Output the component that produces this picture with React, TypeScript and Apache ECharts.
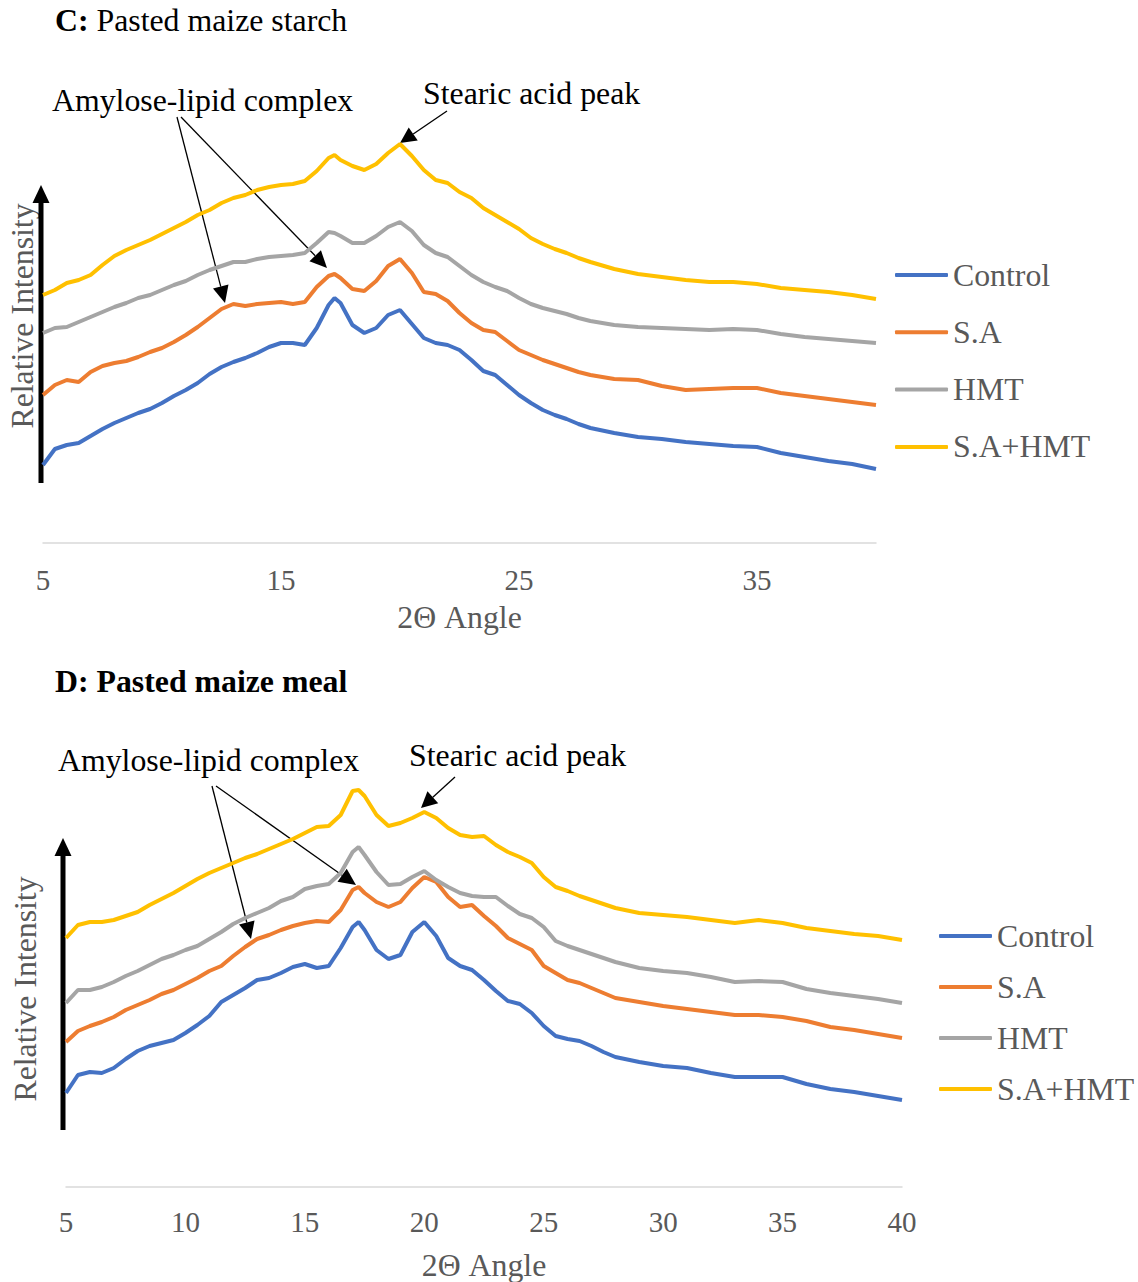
import React, { useEffect, useRef } from "react";
import * as echarts from "echarts";

const SERIES_NAMES = ["Control", "S.A", "HMT", "S.A+HMT"];
const COLORS = ["#4472C4", "#ED7D31", "#A5A5A5", "#FFC000"];

// 2θ sampling positions (degrees) shared by both diffractograms
const ANGLES = [
  5, 5.5, 6, 6.5, 7, 7.5, 8, 8.5, 9, 9.5, 10, 10.5, 11, 11.5, 12, 12.5, 13, 13.5, 14, 14.5,
  15, 15.5, 16, 16.5, 17, 17.25, 17.5, 18, 18.5, 19, 19.5, 20, 20.5, 21, 21.5, 22, 22.5, 23,
  23.5, 24, 24.5, 25, 25.5, 26, 26.5, 27, 27.5, 28, 29, 30, 31, 32, 33, 34, 35, 36, 37, 38,
  39, 40,
];

// Panel C: pasted maize starch (relative intensity, traces offset vertically)
const starchControl = [
  78, 94, 98, 100, 107, 114, 120, 125, 130, 134, 140, 147, 153, 160, 169, 176, 181, 185, 190, 196,
  200, 200, 198, 215, 238, 245, 240, 218, 210, 215, 228, 233, 219, 205, 200, 198, 193, 183,
  172, 168, 158, 148, 140, 133, 128, 124, 119, 115, 110, 106, 104, 101, 99, 97, 96, 90, 86, 82,
  79, 74,
];
const starchSA = [
  148, 158, 163, 161, 171, 177, 180, 182, 186, 191, 195, 201, 208, 216, 225, 234, 239, 237, 239, 240,
  241, 239, 241, 256, 267, 269, 265, 254, 252, 262, 277, 284, 270, 251, 249, 242, 230, 220,
  213, 211, 202, 193, 188, 183, 179, 175, 171, 168, 164, 163, 157, 153, 154, 155, 155, 150, 147, 144,
  141, 138,
];
const starchHMT = [
  210, 215, 216, 221, 226, 231, 236, 240, 245, 248, 253, 258, 262, 268, 273, 277, 281, 281, 284, 286,
  287, 288, 290, 300, 311, 310, 307, 300, 300, 307, 316, 321, 312, 298, 290, 286, 277, 268,
  261, 256, 252, 245, 239, 235, 232, 229, 225, 222, 218, 216, 215, 214, 213, 214, 213, 209, 206, 204,
  202, 200,
];
const starchSAHMT = [
  248, 253, 260, 263, 268, 278, 287, 293, 298, 303, 309, 315, 321, 328, 333, 340, 345, 348, 353, 356,
  358, 359, 362, 372, 385, 388, 383, 377, 373, 379, 390, 399, 387, 373, 363, 360, 351, 345,
  335, 328, 321, 314, 305, 299, 294, 290, 285, 281, 274, 269, 266, 263, 261, 261, 259, 255, 253, 251,
  248, 244,
];

// Panel D: pasted maize meal
const mealControl = [
  94, 112, 115, 114, 119, 128, 136, 141, 144, 147, 154, 162, 171, 185, 192, 199, 207, 209, 214, 220,
  223, 219, 221, 239, 260, 265, 257, 237, 228, 232, 255, 265, 251, 229, 221, 217, 207, 196,
  186, 183, 174, 161, 151, 148, 146, 141, 135, 130, 125, 121, 119, 114, 110, 110, 110, 103, 98, 95,
  91, 87,
];
const mealSA = [
  145, 156, 161, 165, 170, 177, 182, 187, 193, 197, 203, 209, 216, 221, 231, 240, 248, 252, 257, 261,
  264, 266, 265, 277, 297, 300, 294, 285, 280, 285, 299, 310, 305, 290, 280, 282, 271, 261,
  249, 243, 237, 221, 214, 207, 204, 199, 194, 189, 185, 181, 178, 175, 172, 172, 170, 166, 160, 157,
  153, 149,
];
const mealHMT = [
  184, 197, 197, 200, 205, 211, 216, 222, 228, 232, 237, 241, 248, 255, 263, 269, 274, 279, 286, 290,
  298, 301, 303, 314, 335, 340, 332, 315, 302, 303, 310, 316, 307, 300, 294, 291, 290, 290,
  281, 273, 269, 260, 246, 241, 237, 233, 229, 225, 219, 216, 214, 210, 205, 206, 205, 198, 194, 191,
  188, 184,
];
const mealSAHMT = [
  249, 262, 265, 265, 267, 271, 275, 282, 288, 294, 301, 308, 314, 319, 324, 329, 333, 338, 343, 348,
  354, 360, 361, 372, 396, 397, 391, 372, 361, 364, 369, 375, 369, 359, 352, 350, 351, 342,
  335, 330, 324, 310, 300, 296, 291, 287, 283, 279, 274, 272, 270, 267, 264, 267, 264, 259, 256, 253,
  251, 247,
];

const STARCH = [starchControl, starchSA, starchHMT, starchSAHMT];
const MEAL = [mealControl, mealSA, mealHMT, mealSAHMT];

const FONT = "'Liberation Serif', 'Times New Roman', serif";
const GREY_TEXT = "#595959";
const TEXT_SIZE = 31.8;

const toPairs = (vals: number[]) => ANGLES.map((a, i) => [a, vals[i]]);

function traces(sets: number[][], axisIndex: number) {
  return sets.map((vals, i) => ({
    type: "line",
    name: SERIES_NAMES[i],
    xAxisIndex: axisIndex,
    yAxisIndex: axisIndex,
    data: toPairs(vals),
    symbol: "none",
    showSymbol: false,
    lineStyle: { color: COLORS[i], width: 4 },
    itemStyle: { color: COLORS[i] },
    emphasis: { disabled: true },
  }));
}

function xAxis(gridIndex: number, interval: number, showMax: boolean, labelMargin: number, nameGap: number) {
  return {
    type: "value",
    gridIndex,
    min: 5,
    max: 40,
    interval,
    axisLine: { lineStyle: { color: "#D9D9D9", width: 1.5 } },
    axisTick: { show: false },
    splitLine: { show: false },
    axisLabel: {
      color: GREY_TEXT,
      fontSize: 29,
      fontFamily: FONT,
      margin: labelMargin,
      showMaxLabel: showMax,
    },
    name: "2Θ Angle",
    nameLocation: "middle",
    nameGap,
    nameTextStyle: { color: GREY_TEXT, fontSize: TEXT_SIZE, fontFamily: FONT },
  };
}

function yAxis(gridIndex: number) {
  return { type: "value", gridIndex, min: 0, max: 420, show: false };
}

function legend(left: number, top: number, itemGap: number) {
  return {
    data: SERIES_NAMES,
    orient: "vertical",
    left,
    top,
    padding: 0,
    itemWidth: 53,
    itemHeight: 4,
    itemGap,
    icon: "roundRect",
    selectedMode: false,
    textStyle: { color: GREY_TEXT, fontSize: TEXT_SIZE, fontFamily: FONT, lineHeight: 31 },
  };
}

// straight pointer with a filled triangular head at (x2, y2)
function arrow(x1: number, y1: number, x2: number, y2: number, width: number, headLen: number, headHalf: number) {
  const dx = x2 - x1;
  const dy = y2 - y1;
  const d = Math.hypot(dx, dy);
  const ux = dx / d;
  const uy = dy / d;
  const bx = x2 - ux * headLen;
  const by = y2 - uy * headLen;
  const px = -uy;
  const py = ux;
  return [
    { type: "line", shape: { x1, y1, x2: bx, y2: by }, style: { stroke: "#000", lineWidth: width } },
    {
      type: "polygon",
      shape: {
        points: [
          [x2, y2],
          [bx + px * headHalf, by + py * headHalf],
          [bx - px * headHalf, by - py * headHalf],
        ],
      },
      style: { fill: "#000" },
    },
  ];
}

function label(text: string, x: number, y: number, extra: Record<string, unknown> = {}) {
  return {
    type: "text",
    x,
    y,
    style: {
      text,
      fill: "#000",
      fontSize: TEXT_SIZE,
      fontFamily: FONT,
      align: "left",
      verticalAlign: "middle",
      ...extra,
    },
  };
}

function axisCaption(x: number, y: number) {
  return {
    type: "text",
    x,
    y,
    rotation: Math.PI / 2,
    style: {
      text: "Relative Intensity",
      fill: GREY_TEXT,
      fontSize: TEXT_SIZE,
      fontFamily: FONT,
      align: "center",
      verticalAlign: "middle",
    },
  };
}

const graphics = [
  // Panel C
  label("{b|C:} Pasted maize starch", 55, 20, {
    rich: { b: { fontWeight: "bold", fontSize: TEXT_SIZE, fontFamily: FONT, fill: "#000" } },
  }),
  label("Amylose-lipid complex", 52, 100),
  label("Stearic acid peak", 423, 93),
  axisCaption(22, 316),
  ...arrow(41, 483, 41, 185, 5, 18, 8.5),
  ...arrow(177, 117, 225, 303, 1.3, 17, 8),
  ...arrow(181, 117, 327, 268, 1.3, 17, 8),
  ...arrow(447, 111, 400, 143, 1.3, 16, 8),
  // Panel D
  label("D: Pasted maize meal", 55, 681, { fontWeight: "bold" }),
  label("Amylose-lipid complex", 58, 760),
  label("Stearic acid peak", 409, 755),
  axisCaption(25, 989),
  ...arrow(63, 1130, 63, 838, 5, 18, 8.5),
  ...arrow(212, 786, 251, 939, 1.3, 17, 8),
  ...arrow(216, 786, 356, 885, 1.3, 17, 8),
  ...arrow(455, 777, 421, 808, 1.3, 16, 8),
];

const option = {
  animation: false,
  backgroundColor: "#ffffff",
  grid: [
    { left: 43, top: 123, width: 833, height: 420 },
    { left: 66, top: 767, width: 836, height: 420 },
  ],
  xAxis: [xAxis(0, 10, false, 22, 58), xAxis(1, 5, true, 20, 62)],
  yAxis: [yAxis(0), yAxis(1)],
  legend: [legend(895, 259, 25.3), legend(939, 920, 19)],
  series: [...traces(STARCH, 0), ...traces(MEAL, 1)],
  graphic: { elements: graphics },
};

export default function App() {
  const ref = useRef<HTMLDivElement>(null);
  useEffect(() => {
    if (!ref.current) return;
    const chart = echarts.init(ref.current, null, { renderer: "svg" });
    chart.setOption(option as any);
    return () => chart.dispose();
  }, []);
  return (
    <div
      ref={ref}
      style={{ position: "fixed", left: 0, top: 0, width: 1138, height: 1282, background: "#fff" }}
    />
  );
}
